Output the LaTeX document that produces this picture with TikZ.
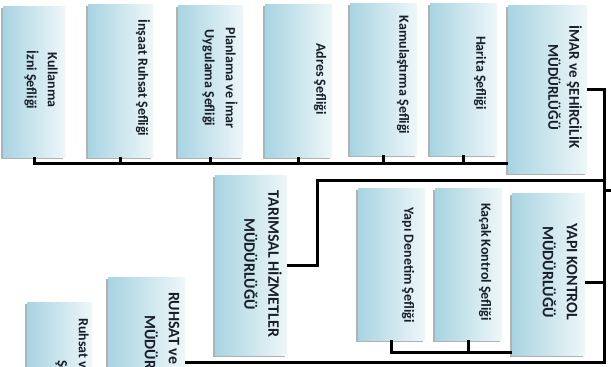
\documentclass[tikz,border=0pt]{standalone}
\usepackage{fontspec}
\setmainfont{Carlito}
\usetikzlibrary{fit,shadows}
\definecolor{boxL}{RGB}{168,212,226}
\definecolor{boxR}{RGB}{238,247,249}
\definecolor{ink}{RGB}{25,30,40}
\begin{document}
\begin{tikzpicture}[x=1pt,y=-1pt,
  box/.style={inner sep=0pt, outer sep=0pt, left color=boxL, right color=boxR,
    drop shadow={shadow xshift=-2pt, shadow yshift=-2pt, fill=black, opacity=0.3}},
  lbl/.style={rotate=-90, font=\bfseries\fontsize{14}{21}\selectfont, align=center, inner sep=0pt, text=ink},
  caps/.style={font=\bfseries\fontsize{16}{24}\selectfont},
  conn/.style={line width=3pt, draw=black}]
\useasboundingbox (0,0) rectangle (611,367);
\fill[white] (0,0) rectangle (611,367);
\clip (0,0) rectangle (611,367);
% boxes
\node[box, fit={(3,6)(65,157)}] (k1) {};
\node[box, fit={(88,4)(153,157)}] (k2) {};
\node[box, fit={(178,5)(243,157)}] (k3) {};
\node[box, fit={(265,4)(332,157)}] (k4) {};
\node[box, fit={(350,3)(417,155)}] (k5) {};
\node[box, fit={(430,3)(497,155)}] (k6) {};
\node[box, fit={(508,5)(587,173)}] (m1) {};
\node[box, fit={(215,175)(287,355)}] (m2) {};
\node[box, fit={(358,188)(425,340)}] (y1) {};
\node[box, fit={(435,188)(502,340)}] (y2) {};
\node[box, fit={(512,193)(585,355)}] (m3) {};
\node[box, fit={(108,277)(185,457)}] (m4) {};
\node[box, fit={(27,302)(92,452)}] (r1) {};
% texts
\node[lbl] (k1t) at (41,80) {Kullanma\\İzni Şefliği};
\node[lbl] (k2t) at (143,78) {İnşaat Ruhsat Şefliği};
\node[lbl] (k3t) at (220,78) {Planlama ve İmar\\Uygulama Şefliği};
\node[lbl] (k4t) at (320,79) {Adres Şefliği};
\node[lbl] (k5t) at (403,75) {Kamulaştırma Şefliği};
\node[lbl] (k6t) at (480,73) {Harita Şefliği};
\node[lbl, caps, font=\bfseries\fontsize{15}{21}\selectfont] (m1t) at (565,87) {İMAR ve ŞEHİRCİLİK\\MÜDÜRLÜĞÜ};
\node[lbl, caps] (m2t) at (263,264) {TARIMSAL HİZMETLER\\MÜDÜRLÜĞÜ};
\node[lbl] (y1t) at (408,265) {Yapı Denetim Şefliği};
\node[lbl] (y2t) at (485,262) {Kaçak Kontrol Şefliği};
\node[lbl, caps] (m3t) at (560,272) {YAPI KONTROL\\MÜDÜRLÜĞÜ};
\node[lbl, caps, anchor=west, align=left] (m4t) at (162,292) {RUHSAT ve\\\hspace*{23pt}MÜDÜRLÜĞÜ};
\node[lbl, anchor=west, align=left] (r1t) at (72,318) {Ruhsat ve\\\hspace*{42pt}Şefliği};
% connectors
\coordinate (b1) at (0,163);
\coordinate (b2) at (0,352);
\coordinate (b3) at (0,282);
\coordinate (b4) at (0,362);
\coordinate (tr) at (604,0);
\coordinate (j1) at (317,180);
\coordinate (out) at (611,190);
\draw[conn] (k1.south) |- (m1.west |- b1);
\foreach \n in {k2,k3,k4,k5,k6} \draw[conn] (\n.south) -- (\n.south |- b1);
\draw[conn] (m1.east) -| (tr |- b4) -- (m4.east |- b4);
\draw[conn] (j1 -| tr) -- (j1) |- (m2.east);
\draw[conn] (m3.east |- b3) -- (b3 -| tr);
\draw[conn] (y1.south) |- (m3.west |- b2);
\draw[conn] (y2.south) -- (y2.south |- b2);
\draw[conn] (out -| tr) -- (out);
\end{tikzpicture}
\end{document}
